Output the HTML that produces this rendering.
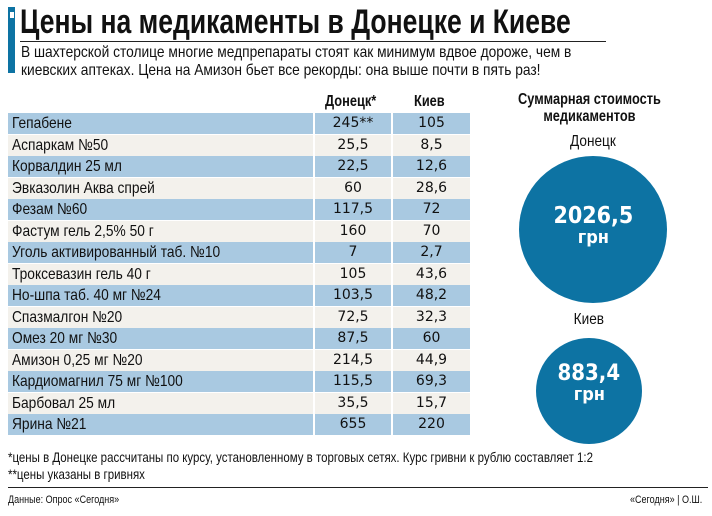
<!DOCTYPE html>
<html><head><meta charset="utf-8"><style>
body{margin:0;width:712px;height:516px;background:#fff;position:relative;overflow:hidden;font-family:"Liberation Sans",sans-serif;color:#111}
.a{position:absolute;white-space:nowrap}
.n{transform-origin:0 0}
.r{position:absolute;left:8px;width:462px;height:21px}
.r div{position:absolute;top:0;height:21px;line-height:21px;white-space:nowrap}
.nm{left:0;width:301px;padding-left:4px;font-size:16px}
.nm span{display:inline-block;transform:scaleX(0.86);transform-origin:0 50%;white-space:nowrap;vertical-align:top}
.d{left:305px;width:76px;text-align:center;font-family:"DejaVu Sans",sans-serif;font-size:14px;border-left:2px solid #fff;border-right:2px solid #fff}
.k{left:385px;width:77px;text-align:center;font-family:"DejaVu Sans",sans-serif;font-size:14px}
.b{background:#a9c9e1}.w{background:#f3f1ec}
.c{position:absolute;border-radius:50%;background:#0d73a3;color:#fff;text-align:center;font-family:"DejaVu Sans",sans-serif;font-weight:bold}
.cn{display:inline-block;transform:scaleX(0.9)}
</style></head><body>
<div class="a" style="left:8px;top:7px;width:7px;height:66px;background:#0d73a3"></div>
<div class="a" style="left:10px;top:12px;width:4px;height:6px;background:#fff"></div>
<div class="a n" style="left:20px;top:3px;font-size:34px;font-weight:bold;transform:scaleX(0.78)">Цены на медикаменты в Донецке и Киеве</div>
<div class="a" style="left:20px;top:41px;width:586px;height:1px;background:#222"></div>
<div class="a n" style="left:21px;top:44px;font-size:16px;line-height:18px;transform:scaleX(0.86)">В шахтерской столице многие медпрепараты стоят как минимум вдвое дороже, чем в<br>киевских аптеках. Цена на Амизон бьет все рекорды: она выше почти в пять раз!</div>
<div class="a n" style="left:325px;top:93px;font-size:16px;font-weight:bold;transform:scaleX(0.8)">Донецк*</div>
<div class="a n" style="left:414px;top:93px;font-size:16px;font-weight:bold;transform:scaleX(0.8)">Киев</div>

<div class="r b" style="top:113px"><div class="nm"><span>Гепабене</span></div><div class="d">245**</div><div class="k">105</div></div>
<div class="r w" style="top:134.5px"><div class="nm"><span>Аспаркам №50</span></div><div class="d">25,5</div><div class="k">8,5</div></div>
<div class="r b" style="top:156px"><div class="nm"><span>Корвалдин 25 мл</span></div><div class="d">22,5</div><div class="k">12,6</div></div>
<div class="r w" style="top:177.5px"><div class="nm"><span>Эвказолин Аква спрей</span></div><div class="d">60</div><div class="k">28,6</div></div>
<div class="r b" style="top:199px"><div class="nm"><span>Фезам №60</span></div><div class="d">117,5</div><div class="k">72</div></div>
<div class="r w" style="top:220.5px"><div class="nm"><span>Фастум гель 2,5% 50 г</span></div><div class="d">160</div><div class="k">70</div></div>
<div class="r b" style="top:242px"><div class="nm"><span>Уголь активированный таб. №10</span></div><div class="d">7</div><div class="k">2,7</div></div>
<div class="r w" style="top:263.5px"><div class="nm"><span>Троксевазин гель 40 г</span></div><div class="d">105</div><div class="k">43,6</div></div>
<div class="r b" style="top:285px"><div class="nm"><span>Но-шпа таб. 40 мг №24</span></div><div class="d">103,5</div><div class="k">48,2</div></div>
<div class="r w" style="top:306.5px"><div class="nm"><span>Спазмалгон №20</span></div><div class="d">72,5</div><div class="k">32,3</div></div>
<div class="r b" style="top:328px"><div class="nm"><span>Омез 20 мг №30</span></div><div class="d">87,5</div><div class="k">60</div></div>
<div class="r w" style="top:349.5px"><div class="nm"><span>Амизон 0,25 мг №20</span></div><div class="d">214,5</div><div class="k">44,9</div></div>
<div class="r b" style="top:371px"><div class="nm"><span>Кардиомагнил 75 мг №100</span></div><div class="d">115,5</div><div class="k">69,3</div></div>
<div class="r w" style="top:392.5px"><div class="nm"><span>Барбовал 25 мл</span></div><div class="d">35,5</div><div class="k">15,7</div></div>
<div class="r b" style="top:414px"><div class="nm"><span>Ярина №21</span></div><div class="d">655</div><div class="k">220</div></div>

<div class="a n" style="left:518px;top:91px;font-size:16px;font-weight:bold;line-height:17px;text-align:center;transform:scaleX(0.8)">Суммарная стоимость<br>медикаментов</div>
<div class="a" style="left:493px;top:133px;width:200px;text-align:center;font-size:16px"><span class="cn" style="transform:scaleX(0.85)">Донецк</span></div>
<div class="c" style="left:519px;top:156px;width:148px;height:147px"><div style="margin-top:48px;font-size:23px;line-height:24px"><span class="cn">2026,5</span></div><div style="font-size:18px;line-height:19px"><span class="cn">грн</span></div></div>
<div class="a" style="left:489px;top:311px;width:200px;text-align:center;font-size:16px"><span class="cn" style="transform:scaleX(0.85)">Киев</span></div>
<div class="c" style="left:536px;top:338px;width:106px;height:106px"><div style="margin-top:24px;font-size:22px;line-height:23px"><span class="cn">883,4</span></div><div style="font-size:18px;line-height:19px"><span class="cn">грн</span></div></div>
<div class="a n" style="left:8px;top:449px;font-size:14px;line-height:17px;transform:scaleX(0.82)">*цены в Донецке рассчитаны по курсу, установленному в торговых сетях. Курс гривни к рублю составляет 1:2<br>**цены указаны в гривнях</div>
<div class="a" style="left:8px;top:487px;width:700px;height:1px;background:#222"></div>
<div class="a n" style="left:8px;top:494px;font-size:11px;transform:scaleX(0.82)">Данные: Опрос «Сегодня»</div>
<div class="a n" style="left:630px;top:494px;font-size:11px;transform:scaleX(0.82)">«Сегодня» | О.Ш.</div>
</body></html>
